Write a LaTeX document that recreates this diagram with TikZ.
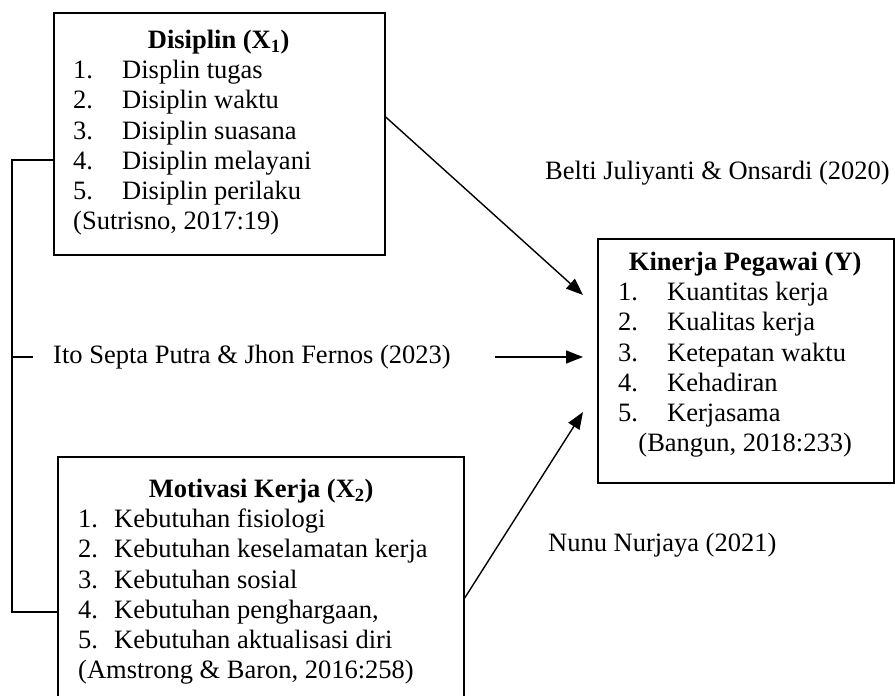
\documentclass[tikz,border=0pt]{standalone}
\usepackage{fontspec}
\setmainfont{Liberation Serif}
\usetikzlibrary{positioning,calc,arrows.meta}
\setlength{\parindent}{0pt}
\newcommand{\entry}[3]{\makebox[#1][l]{#2.}#3\par}

\begin{document}
\begin{tikzpicture}[
    x=1pt, y=-1pt,
    font=\fontsize{26.5}{30.2}\selectfont,
    box/.style={draw, line width=1.7pt, anchor=north west, inner sep=0pt},
    list/.style={align=flush left, inner sep=0pt},
    cite/.style={inner sep=0pt, anchor=west},
    arrow/.style={-{Triangle[length=17pt,width=13pt]}, line width=1.4pt},
    rail/.style={line width=2.2pt}
  ]
    \clip (0,0) rectangle (895,696);
    % boxes
    \node[box, minimum width=331pt, minimum height=242pt] (disiplin) at (53,12) {};
    \node[box, minimum width=296pt, minimum height=244pt] (kinerja) at (597,238) {};
    \node[box, minimum width=406pt, minimum height=260pt] (motivasi) at (57,456) {};
    % box contents
    \node[list, text width=291pt, below right=18pt and 20pt of disiplin.north west] (disiplinlist) {%
      {\centering\bfseries Disiplin (X\textsubscript{1})\par}
      \entry{49pt}{1}{Displin tugas}
      \entry{49pt}{2}{Disiplin waktu}
      \entry{49pt}{3}{Disiplin suasana}
      \entry{49pt}{4}{Disiplin melayani}
      \entry{49pt}{5}{Disiplin perilaku}
      (Sutrisno, 2017:19)};
    \node[list, text width=254pt, below right=14pt and 21pt of kinerja.north west] (kinerjalist) {%
      {\centering\bfseries Kinerja Pegawai (Y)\par}
      \entry{49pt}{1}{Kuantitas kerja}
      \entry{49pt}{2}{Kualitas kerja}
      \entry{49pt}{3}{Ketepatan waktu}
      \entry{49pt}{4}{Kehadiran}
      \entry{49pt}{5}{Kerjasama}
      {\centering (Bangun, 2018:233)\par}};
    \node[list, text width=366pt, below right=23pt and 21pt of motivasi.north west] (motivasilist) {%
      {\centering\bfseries Motivasi Kerja (X\textsubscript{2})\par}
      \entry{36pt}{1}{Kebutuhan fisiologi}
      \entry{36pt}{2}{Kebutuhan keselamatan kerja}
      \entry{36pt}{3}{Kebutuhan sosial}
      \entry{36pt}{4}{Kebutuhan penghargaan,}
      \entry{36pt}{5}{Kebutuhan aktualisasi diri}
      (Amstrong \& Baron, 2016:258)};
    % sources on the arrows
    \node[cite] (belti) at (545,173) {Belti Juliyanti \& Onsardi (2020)};
    \node[cite] (ito) at (53,357) {Ito Septa Putra \& Jhon Fernos (2023)};
    \node[cite] (nunu) at (548,545) {Nunu Nurjaya (2021)};
    % arrows into Y
    \coordinate (tipA) at ($(kinerja.north west)+(-14,57)$);
    \coordinate (tipB) at ($(kinerja.north west)+(-14,119)$);
    \coordinate (tipC) at ($(kinerja.north west)+(-14,174)$);
    \draw[arrow] ($(disiplin.north east)+(0,105)$) -- (tipA);
    \draw[arrow, shorten <=44pt] (ito.east |- tipB) -- (tipB);
    \draw[arrow] ($(motivasi.north east)+(0,142)$) -- (tipC);
    % joint line of X1 and X2
    \coordinate (railtop) at ($(disiplin.north west)+(-41,148)$);
    \coordinate (railbottom) at ($(motivasi.north west)+(-45,156)$);
    \draw[rail] ($(disiplin.north west)+(0,148)$) -- (railtop) -- (railbottom) -- ($(motivasi.north west)+(0,156)$);
    \draw[rail, shorten >=20pt] (railtop |- ito.west) -- (ito.west);
\end{tikzpicture}
\end{document}
